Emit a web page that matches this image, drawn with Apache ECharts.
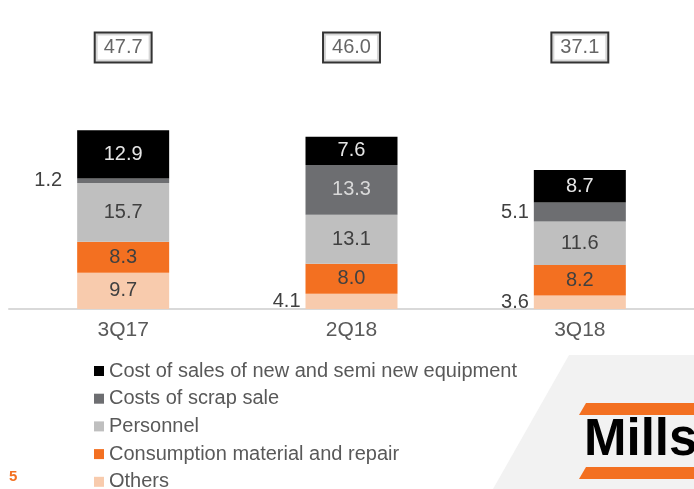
<!DOCTYPE html>
<html>
<head>
<meta charset="utf-8">
<script src="https://cdn.jsdelivr.net/npm/echarts@6/dist/echarts.min.js"></script>
<style>
html,body{margin:0;padding:0;background:#fff;}
#chart{width:694px;height:489px;}
</style>
</head>
<body>
<div id="chart"></div>
<script>
const categories = ['3Q17', '2Q18', '3Q18'];
const others = [9.7, 4.1, 3.6];
const consumption = [8.3, 8.0, 8.2];
const personnel = [15.7, 13.1, 11.6];
const scrap = [1.2, 13.3, 5.1];
const costOfSales = [12.9, 7.6, 8.7];
const totals = [47.7, 46.0, 37.1];

const seriesNames = ['Others', 'Consumption material and repair', 'Personnel', 'Costs of scrap sale', 'Cost of sales of new and semi new equipment'];
const seriesData = [others, consumption, personnel, scrap, costOfSales];
const colors = ['#f8cbad', '#f37021', '#bfbfbf', '#6d6e71', '#000000'];
const labelColors = ['#404040', '#404040', '#404040', '#d9d9d9', '#e6e6e6'];

const FONT = '"Liberation Sans", Arial, sans-serif';
const chart = echarts.init(document.getElementById('chart'), null, {renderer: 'canvas'});

const barSeries = seriesData.map((arr, si) => ({
  name: seriesNames[si],
  type: 'bar',
  stack: 'total',
  barWidth: 92,
  itemStyle: {color: colors[si]},
  animation: false,
  data: arr.map(v => {
    const small = v < 6;
    return {
      value: v,
      label: {
        show: true,
        position: small ? 'left' : 'inside',
        distance: v < 2 ? 15 : 5,
        color: small ? '#404040' : labelColors[si],
        fontSize: 20,
        fontFamily: FONT,
        formatter: p => p.value.toFixed(1)
      }
    };
  })
}));

const totalSeries = {
  name: 'Total',
  type: 'scatter',
  symbol: 'rect',
  symbolSize: 1,
  itemStyle: {color: 'rgba(0,0,0,0)'},
  animation: false,
  silent: true,
  data: categories.map((c, i) => [i, 70]),
  label: {
    show: true,
    position: 'inside',
    formatter: p => totals[p.dataIndex].toFixed(1),
    fontSize: 20,
    fontFamily: FONT,
    color: '#404040',
    borderColor: '#000',
    borderWidth: 2,
    padding: [5, 8, 3, 8],
    backgroundColor: '#fff'
  }
};

chart.setOption({
  backgroundColor: '#ffffff',
  animation: false,
  textStyle: {fontFamily: FONT},
  grid: {left: 9, right: -6, top: 10, bottom: 180, containLabel: false},
  xAxis: {
    type: 'category',
    data: categories,
    axisLine: {show: true, lineStyle: {color: '#d9d9d9', width: 2}},
    axisTick: {show: false},
    axisLabel: {fontSize: 21, color: '#595959', margin: 11, fontFamily: FONT}
  },
  yAxis: {
    type: 'value',
    min: 0,
    max: 80,
    show: false,
    splitLine: {show: false}
  },
  legend: {
    orient: 'vertical',
    left: 94,
    top: 361,
    width: 450,
    height: 160,
    padding: 0,
    itemWidth: 10,
    itemHeight: 10,
    itemGap: 7.7,
    icon: 'rect',
    selectedMode: false,
    data: seriesNames.slice().reverse(),
    textStyle: {fontSize: 20, color: '#595959', fontFamily: FONT}
  },
  graphic: [
    {type: 'polygon', z: -10, silent: true, shape: {points: [[569, 355], [694, 355], [694, 489], [493, 489]]}, style: {fill: '#f2f2f2'}},
    {type: 'polygon', z: 10, silent: true, shape: {points: [[586, 403], [700, 403], [700, 415], [579, 415]]}, style: {fill: '#f37021'}},
    {type: 'polygon', z: 10, silent: true, shape: {points: [[586, 467], [700, 467], [700, 479], [579, 479]]}, style: {fill: '#f37021'}},
    {type: 'text', z: 10, silent: true, left: 584, top: 415, style: {text: 'Mills', font: 'bold 51px "Liberation Sans", Arial, sans-serif', fill: '#000'}},
    {type: 'text', z: 10, silent: true, left: 9, top: 469, style: {text: '5', font: 'bold 15px "Liberation Sans", Arial, sans-serif', fill: '#f37021'}}
  ],
  series: [...barSeries, totalSeries]
});
</script>
</body>
</html>
